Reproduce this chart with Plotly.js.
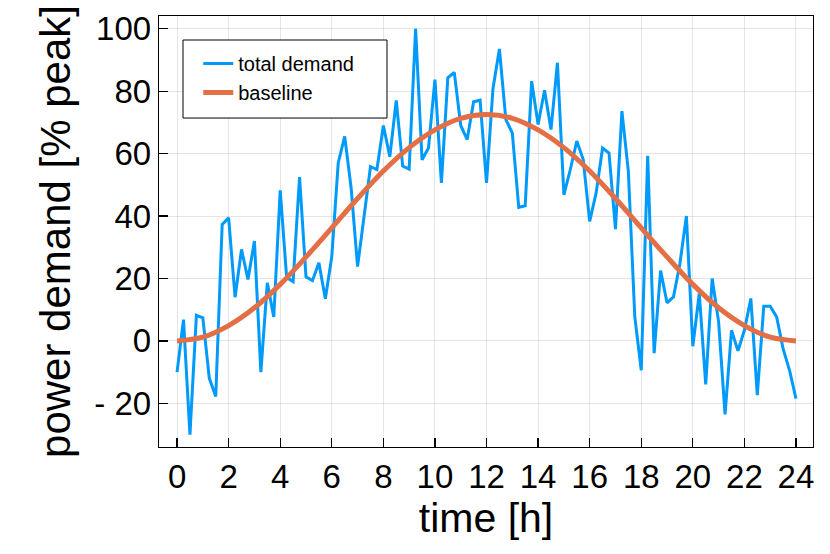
<!DOCTYPE html>
<html>
<head>
<meta charset="utf-8">
<script src="https://cdn.plot.ly/plotly-3.0.1.min.js"></script>
<style>
  html, body { margin: 0; padding: 0; background: #fff; }
</style>
</head>
<body>
<div id="power-demand-graph" style="width:830px;height:554px"></div>
<script>
// Данные: время в часах (шаг 15 минут)
const hours = [
  0, 0.25, 0.5, 0.75, 1, 1.25, 1.5, 1.75, 2, 2.25, 2.5, 2.75,
  3, 3.25, 3.5, 3.75, 4, 4.25, 4.5, 4.75, 5, 5.25, 5.5, 5.75,
  6, 6.25, 6.5, 6.75, 7, 7.25, 7.5, 7.75, 8, 8.25, 8.5, 8.75,
  9, 9.25, 9.5, 9.75, 10, 10.25, 10.5, 10.75, 11, 11.25, 11.5, 11.75,
  12, 12.25, 12.5, 12.75, 13, 13.25, 13.5, 13.75, 14, 14.25, 14.5, 14.75,
  15, 15.25, 15.5, 15.75, 16, 16.25, 16.5, 16.75, 17, 17.25, 17.5, 17.75,
  18, 18.25, 18.5, 18.75, 19, 19.25, 19.5, 19.75, 20, 20.25, 20.5, 20.75,
  21, 21.25, 21.5, 21.75, 22, 22.25, 22.5, 22.75, 23, 23.25, 23.5, 23.75,
  24,
];

// Суммарное потребление, % от пика
const totalDemand = [
  -10, 6.8, -30, 8.2, 7.4, -11.9, -17.8, 37.3, 39.4, 14, 29.3, 19.7,
  32, -10, 18.6, 7.7, 48.2, 20.3, 19, 52.5, 20.5, 19.3, 25, 13.5,
  27, 57, 65.5, 49, 23.8, 39, 55.8, 54.9, 69, 59, 77, 56,
  55, 100, 58, 61.8, 83.7, 50.6, 84.3, 86, 69, 64.5, 76.6, 77.1,
  50.6, 80.8, 93.5, 70.9, 66.6, 42.8, 43.3, 83.2, 69.3, 80.3, 67.7, 89.1,
  46.8, 54.9, 64, 58.1, 38.3, 47.4, 61.8, 60.2, 35.8, 73.6, 54.3, 7.7,
  -9.4, 59.3, -3.9, 22.5, 12.2, 14.1, 24.8, 40, -1.7, 15.2, -13.9, 20,
  6.1, -23.5, 3.4, -3.2, 3.4, 13.6, -17.4, 11.1, 11.1, 7.7, -2.5, -9.4,
  -18.5,
];

// Базовая линия (по часам)
const baselineHours = [
  0, 1, 2, 3, 4, 5, 6, 7, 8, 9, 10, 11, 12,
  13, 14, 15, 16, 17, 18, 19, 20, 21, 22, 23, 24,
];
const baseline = [
  0, 1.2, 4.9, 10.6, 18.1, 26.9, 36.2, 45.6, 54.4, 61.9, 67.6, 71.3, 72.5,
  71.3, 67.6, 61.9, 54.4, 45.6, 36.2, 26.9, 18.1, 10.6, 4.9, 1.2, 0,
];

// Подписи осей
const xTickVals = [0, 2, 4, 6, 8, 10, 12, 14, 16, 18, 20, 22, 24];
const yTickVals = [-20, 0, 20, 40, 60, 80, 100];
const yTickText = ["- 20", "0", "20", "40", "60", "80", "100"];

const FONT = "Liberation Sans, Arial, Helvetica, sans-serif";

const demandTrace = {
  x: hours,
  y: totalDemand,
  mode: "lines",
  type: "scatter",
  name: "total demand",
  line: { color: "#009afa", width: 3 },
};

const baselineTrace = {
  x: baselineHours,
  y: baseline,
  mode: "lines",
  type: "scatter",
  name: "baseline",
  line: { color: "#e26f46", width: 5, shape: "spline" },
};

const axisCommon = {
  showline: true,
  mirror: true,
  linecolor: "#000",
  linewidth: 1.3,
  ticks: "inside",
  ticklen: 9,
  tickwidth: 1.2,
  tickcolor: "#000",
  showgrid: true,
  gridcolor: "rgba(0,0,0,0.1)",
  gridwidth: 1,
  zeroline: false,
  tickfont: { family: FONT, size: 33, color: "#000" },
};

const layout = {
  width: 830,
  height: 554,
  margin: { l: 159, r: 17, t: 16, b: 107 },
  paper_bgcolor: "#fff",
  plot_bgcolor: "#fff",
  font: { family: FONT, color: "#000" },
  showlegend: true,
  // рамка легенды (шире, чем строит Plotly)
  shapes: [
    {
      type: "rect",
      xref: "paper",
      yref: "paper",
      x0: 0.0367,
      x1: 0.3486,
      y0: 0.7633,
      y1: 0.9443,
      fillcolor: "#fff",
      line: { color: "#000", width: 1 },
      layer: "above",
    },
  ],
  legend: {
    x: 0.06,
    y: 0.935,
    xanchor: "left",
    yanchor: "top",
    bgcolor: "rgba(0,0,0,0)",
    borderwidth: 0,
    tracegroupgap: 0,
    font: { family: FONT, size: 20, color: "#000" },
  },
  xaxis: Object.assign({}, axisCommon, {
    range: [-0.7, 24.66],
    tickmode: "array",
    tickvals: xTickVals,
    title: {
      text: "time [h]",
      font: { family: FONT, size: 41, color: "#000" },
      standoff: 9,
    },
  }),
  yaxis: Object.assign({}, axisCommon, {
    range: [-33.98, 104.07],
    tickmode: "array",
    tickvals: yTickVals,
    ticktext: yTickText,
    title: {
      text: "power demand [% peak]",
      font: { family: FONT, size: 42, color: "#000" },
      standoff: 10,
    },
  }),
};

const config = { staticPlot: true, displayModeBar: false };

Plotly.newPlot("power-demand-graph", [demandTrace, baselineTrace], layout, config);
</script>
</body>
</html>
